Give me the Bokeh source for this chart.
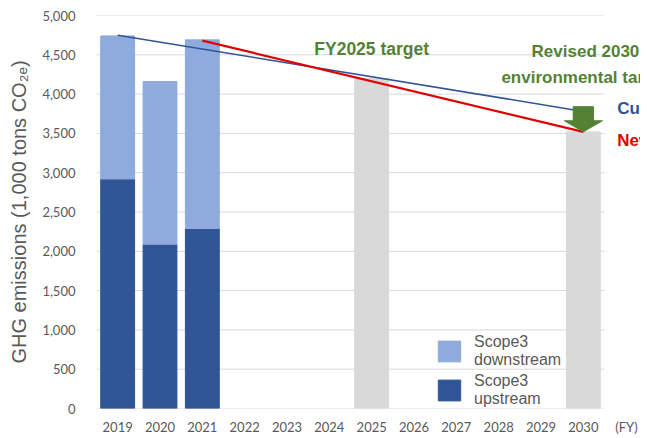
from bokeh.plotting import figure
from bokeh.models import (Legend, LegendItem, Label, FixedTicker, NumeralTickFormatter,
                          Range1d, ColumnDataSource)
from bokeh.embed import file_html
from bokeh.resources import INLINE

# ---- data ----
years = [2019, 2020, 2021, 2022, 2023, 2024, 2025, 2026, 2027, 2028, 2029, 2030]
actual_years = [2019, 2020, 2021]
scope3_upstream = [2920, 2090, 2290]
scope3_downstream = [1820, 2070, 2400]   # totals: 4740, 4160, 4690
target_years = [2025, 2030]
target_values = [4200, 3520]
current_line_years = [2019, 2030]
current_line_values = [4750, 3780]
new_line_years = [2021, 2030]
new_line_values = [4680, 3520]
arrow_values = [3840, 3520]   # arrow top, arrow tip (2030)
y_ticks = [0, 500, 1000, 1500, 2000, 2500, 3000, 3500, 4000, 4500, 5000]
fy_tick = 2031.02

DARK = "#2F5597"
LIGHT = "#8FAADC"
GRAY = "#D9D9D9"
RED = "#E00000"
GREEN = "#548235"
TXT = "#595959"

X0, X1 = 2018.5, 2030.5
p = figure(width=640, height=437, x_range=Range1d(X0, 2031.35), y_range=Range1d(0, 5000),
           output_backend="svg", toolbar_location=None,
           min_border_left=96, min_border_right=0, min_border_top=15, min_border_bottom=22)
p.outline_line_color = None
p.background_fill_color = "white"
p.xgrid.grid_line_color = None
p.ygrid.grid_line_color = None

# horizontal gridlines limited to the category area
p.segment(x0=X0, x1=X1, y0=y_ticks, y1=y_ticks, line_color=GRAY, line_width=1)

# target bars
p.vbar(x=target_years, top=target_values, width=0.8, color=GRAY)

# stacked actual bars
src = ColumnDataSource(dict(year=actual_years, up=scope3_upstream, down=scope3_downstream))
r_up, r_down = p.vbar_stack(["up", "down"], x="year", width=0.8, color=[DARK, LIGHT], source=src)

# trend lines
p.line(current_line_years, current_line_values, color=DARK, line_width=1.5)
p.line(new_line_years, new_line_values, color=RED, line_width=2.2)

# block arrow at 2030: from arrow top down to new target
ax = target_years[-1]
top, tip = arrow_values
base = tip + (top - tip) * 0.44
sw, hw = 0.24, 0.45
p.patch([ax - sw, ax + sw, ax + sw, ax + hw, ax, ax - hw, ax - sw],
        [top, top, base, base, tip, base, base], color=GREEN)

# axes
p.xaxis.ticker = FixedTicker(ticks=years + [fy_tick])
ov = {y: str(y) for y in years}
ov[fy_tick] = "(FY)"
p.xaxis.major_label_overrides = ov
p.yaxis.ticker = FixedTicker(ticks=y_ticks)
p.yaxis.formatter = NumeralTickFormatter(format="0,0")
for a in (p.xaxis[0], p.yaxis[0]):
    a.axis_line_color = None
    a.major_tick_line_color = None
    a.minor_tick_line_color = None
    a.major_label_text_color = TXT
    a.major_label_text_font = "Lato"
    a.major_label_text_font_size = "13px"
p.xaxis.major_label_standoff = 4
p.yaxis.major_label_standoff = 15
p.yaxis.axis_label = "GHG emissions (1,000 tons CO₂ₑ)"
p.yaxis.axis_label_text_font = "Liberation Sans"
p.yaxis.axis_label_text_font_style = "normal"
p.yaxis.axis_label_text_font_size = "20px"
p.yaxis.axis_label_text_color = TXT
p.yaxis.axis_label_standoff = 9

# annotations
def lab(x, y, text, color, align="center", size="17px", bold=True, font="Liberation Sans", lh=1.2):
    p.add_layout(Label(x=x, y=y, text=text, text_color=color, text_align=align,
                       text_baseline="middle", text_font=font, text_font_size=size,
                       text_font_style="bold" if bold else "normal", text_line_height=lh))

lab(2025, 4580, "FY2025 target", GREEN, size="17.5px")
lab(2030.05, 4375, "Revised 2030\nenvironmental target", GREEN, lh=1.35)
lab(2030.8, 3814, "Current target", DARK, align="left")
lab(2030.8, 3405, "New target", RED, align="left")

legend = Legend(items=[LegendItem(label="Scope3\ndownstream", renderers=[r_down]),
                       LegendItem(label="Scope3\nupstream", renderers=[r_up])],
                location=(339, 0), glyph_width=28, glyph_height=26,
                background_fill_alpha=0, border_line_color=None, padding=0, margin=0,
                spacing=3, label_standoff=11,
                label_text_font="Liberation Sans", label_text_font_size="16px",
                label_text_color=TXT, label_text_line_height=1.0)
p.add_layout(legend)

open("out.html", "w").write(file_html(p, INLINE))
